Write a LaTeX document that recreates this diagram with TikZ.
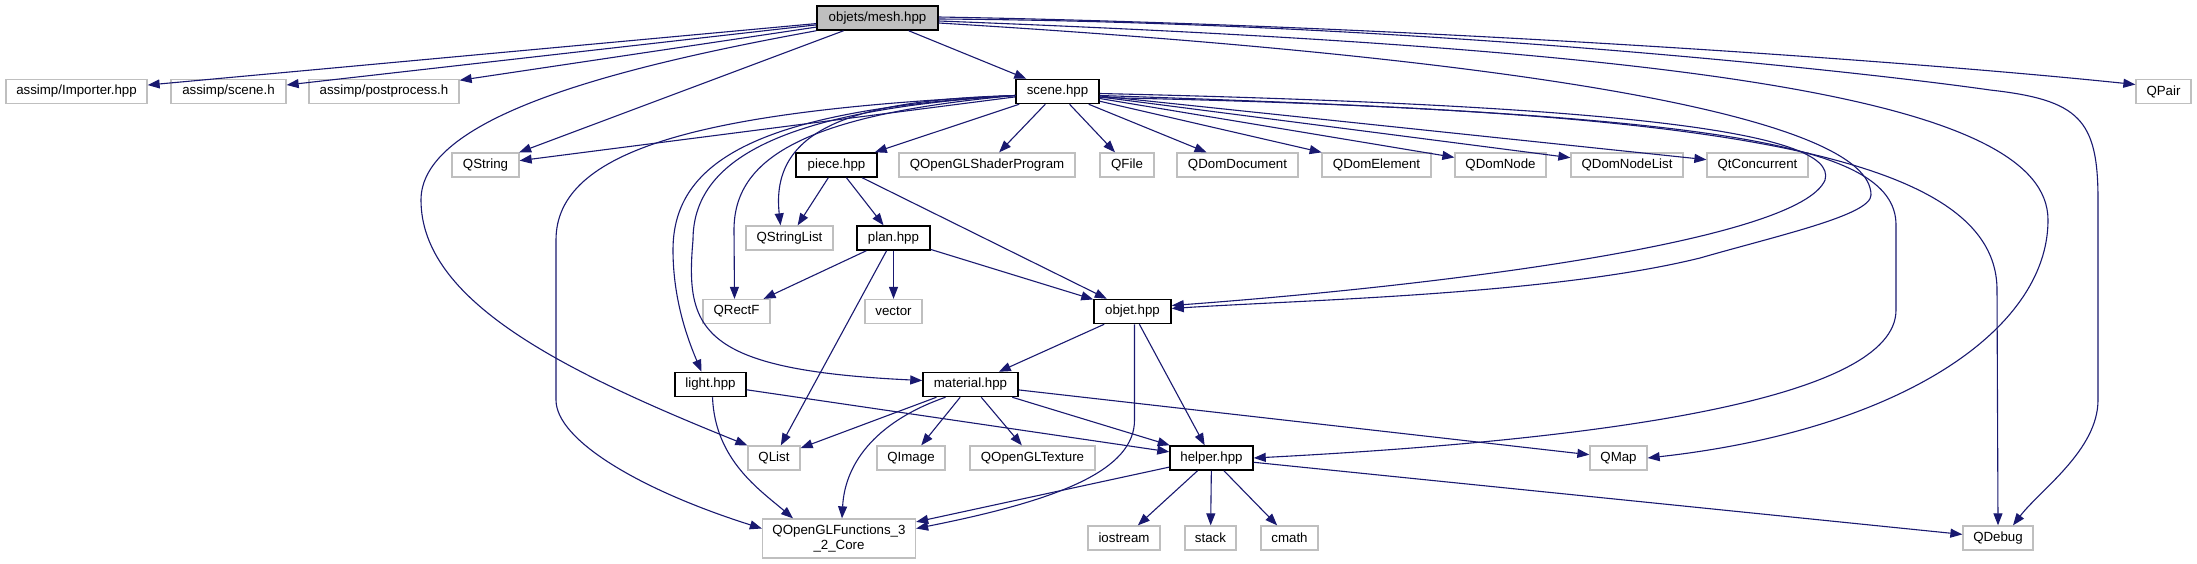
\documentclass[tikz,border=0pt]{standalone}
\usepackage{fontspec}
\setmainfont{Liberation Sans}
\usetikzlibrary{arrows.meta}
\definecolor{eblue}{RGB}{25,25,112}
\definecolor{gbord}{RGB}{191,191,191}
\definecolor{mfill}{RGB}{191,191,191}
\begin{document}
\begin{tikzpicture}[x=1pt,y=-1pt,
  box/.style={rectangle, minimum height=24, inner sep=0, font=\fontsize{13.3}{15}\selectfont, text=black, align=center},
  ext/.style={box, draw=gbord, line width=1.3pt},
  loc/.style={box, draw=black, line width=1.5pt},
  dep/.style={draw=eblue, line width=1.1pt, -{Triangle[length=12pt,width=9pt]}}
]
\fill[white] (0,0) rectangle (2197,563);
\useasboundingbox (0,0) rectangle (2197,563);
% row 1
\node[loc, fill=mfill, minimum width=121] (mesh) at (877.5,18) {objets/mesh.hpp};
% row 2
\node[ext, minimum width=141] (imp) at (76.5,91.5) {assimp/Importer.hpp};
\node[ext, minimum width=115] (scnh) at (228.5,91.5) {assimp/scene.h};
\node[ext, minimum width=150] (post) at (384,91.5) {assimp/postprocess.h};
\node[loc, minimum width=83] (scene) at (1057.5,91.5) {scene.hpp};
\node[ext, minimum width=55] (qpair) at (2163.5,91.5) {QPair};
% row 3
\node[ext, minimum width=67] (qstring) at (485.5,165) {QString};
\node[loc, minimum width=81] (piece) at (836.5,165) {piece.hpp};
\node[ext, minimum width=176] (shader) at (987,165) {QOpenGLShaderProgram};
\node[ext, minimum width=54] (qfile) at (1127,165) {QFile};
\node[ext, minimum width=121] (qdomdoc) at (1237.5,165) {QDomDocument};
\node[ext, minimum width=109] (qdomel) at (1376.5,165) {QDomElement};
\node[ext, minimum width=91] (qdomnode) at (1500.5,165) {QDomNode};
\node[ext, minimum width=112] (qdomnl) at (1627,165) {QDomNodeList};
\node[ext, minimum width=101] (qtconc) at (1757.5,165) {QtConcurrent};
% row 4
\node[ext, minimum width=87] (qstrlist) at (789.5,238) {QStringList};
\node[loc, minimum width=73] (plan) at (893.5,238) {plan.hpp};
% row 5
\node[ext, minimum width=67] (qrectf) at (736.5,311.5) {QRectF};
\node[ext, minimum width=57] (vector) at (893.5,311.5) {vector};
\node[loc, minimum width=77] (objet) at (1132.5,311.5) {objet.hpp};
% row 6
\node[loc, minimum width=71] (light) at (710.5,384.5) {light.hpp};
\node[loc, minimum width=95] (material) at (970.5,384.5) {material.hpp};
% row 7
\node[ext, minimum width=52] (qlist) at (774,458) {QList};
\node[ext, minimum width=68] (qimage) at (911,458) {QImage};
\node[ext, minimum width=125] (qtexture) at (1032.5,458) {QOpenGLTexture};
\node[loc, minimum width=83] (helper) at (1211.5,458) {helper.hpp};
\node[ext, minimum width=57] (qmap) at (1618.5,458) {QMap};
% row 8
\node[ext, minimum width=153, minimum height=39] (qoglf) at (839,538.5) {QOpenGLFunctions\_3\\\_2\_Core};
\node[ext, minimum width=72] (iostream) at (1124,538) {iostream};
\node[ext, minimum width=51] (stack) at (1210.5,538) {stack};
\node[ext, minimum width=57] (cmath) at (1289.5,538) {cmath};
\node[ext, minimum width=70] (qdebug) at (1998,538) {QDebug};

% mesh.hpp edges
\draw[dep] (mesh) -- (imp);
\draw[dep] (mesh) -- (scnh);
\draw[dep] (mesh) -- (post);
\draw[dep] (mesh) -- (qstring);
\draw[dep] (mesh) -- (scene);
\draw[dep] (mesh.south west) .. controls (600,70) and (421,120) .. (421,200)
   .. controls (421,300) and (560,370) .. (qlist.north west);
\draw[dep] ([yshift=1pt]mesh.east) .. controls (1400,25) and (1900,60) .. ([yshift=7pt]qpair.west);
\draw[dep] ([yshift=-1pt]mesh.east) .. controls (1400,22) and (1850,70) .. (1990,90)
   .. controls (2080,100) and (2098,120) .. (2098,200) -- (2098,400)
   .. controls (2098,450) and (2040,490) .. ([xshift=15pt]qdebug.north);
\draw[dep] ([yshift=-3pt]mesh.east) .. controls (1700,50) and (2048,100) .. (2048,220)
   .. controls (2048,330) and (1900,430) .. (qmap.east);
\draw[dep] ([yshift=-5pt]mesh.east) .. controls (1550,60) and (1871,120) .. (1871,195)
   .. controls (1871,215) and (1780,235) .. (1700,258)
   .. controls (1550,295) and (1300,300) .. ([yshift=3pt]objet.east);

% scene.hpp edges
\draw[dep] (scene) -- (qstring);
\draw[dep] (scene) -- (piece);
\draw[dep] (scene) -- (shader);
\draw[dep] (scene) -- (qfile);
\draw[dep] (scene) -- (qdomdoc);
\draw[dep] (scene) -- (qdomel);
\draw[dep] (scene) -- (qdomnode);
\draw[dep] (scene) -- (qdomnl);
\draw[dep] (scene) -- (qtconc);
\draw[dep] ([yshift=-4pt]scene.west) .. controls (850,100) and (770,130) .. ([xshift=-9pt]qstrlist.north);
\draw[dep] ([yshift=-4pt]scene.west) .. controls (800,115) and (734,160) .. (734,230) -- ([xshift=-2pt]qrectf.north);
\draw[dep] ([yshift=-4pt]scene.west) .. controls (760,110) and (673,160) .. (673,250)
   .. controls (673,300) and (688,340) .. ([xshift=-9pt]light.north);
\draw[dep] ([yshift=-4pt]scene.west) .. controls (780,110) and (693,160) .. (693,240)
   .. controls (685,330) and (700,370) .. ([yshift=4pt]material.west);
\draw[dep] ([yshift=-4pt]scene.west) .. controls (700,110) and (556,150) .. (556,240) -- (556,400)
   .. controls (556,440) and (640,490) .. ([yshift=10pt]qoglf.west);
\draw[dep] ([yshift=-2pt]scene.east) .. controls (1600,105) and (1840,130) .. (1825,180)
   .. controls (1800,240) and (1450,285) .. ([yshift=6pt]objet.east);
\draw[dep] ([yshift=-4pt]scene.east) .. controls (1700,115) and (1896,140) .. (1896,225) -- (1896,310)
   .. controls (1896,400) and (1600,440) .. (helper.east);
\draw[dep] ([yshift=-6pt]scene.east) .. controls (1700,110) and (1997,150) .. (1997,290) -- (qdebug.north);

% piece.hpp
\draw[dep] (piece) -- (qstrlist);
\draw[dep] (piece) -- (plan);
\draw[dep] (piece) -- (objet);
% plan.hpp
\draw[dep] (plan) -- (qrectf);
\draw[dep] (plan) -- (vector);
\draw[dep] (plan) -- (objet);
\draw[dep] (plan) -- (qlist);
% objet.hpp
\draw[dep] (objet) -- (material);
\draw[dep] (objet) -- (helper);
\draw[dep] ([xshift=2pt]objet.south) -- (1134.5,420) .. controls (1134.5,470) and (1060,500) .. ([yshift=10pt]qoglf.east);
% light.hpp
\draw[dep] (light) -- (helper);
\draw[dep] ([xshift=2pt]light.south) .. controls (715,460) and (760,490) .. ([xshift=-46pt]qoglf.north);
% material.hpp
\draw[dep] (material) -- (qlist);
\draw[dep] (material) -- (qimage);
\draw[dep] (material) -- (qtexture);
\draw[dep] (material) -- (helper);
\draw[dep] (material) -- (qmap);
\draw[dep] ([xshift=-25pt]material.south) .. controls (880,420) and (845,460) .. ([xshift=3pt]qoglf.north);
% helper.hpp
\draw[dep] (helper) -- (qoglf);
\draw[dep] (helper) -- (iostream);
\draw[dep] (helper) -- (stack);
\draw[dep] (helper) -- (cmath);
\draw[dep] (helper) -- (qdebug);
\end{tikzpicture}
\end{document}
